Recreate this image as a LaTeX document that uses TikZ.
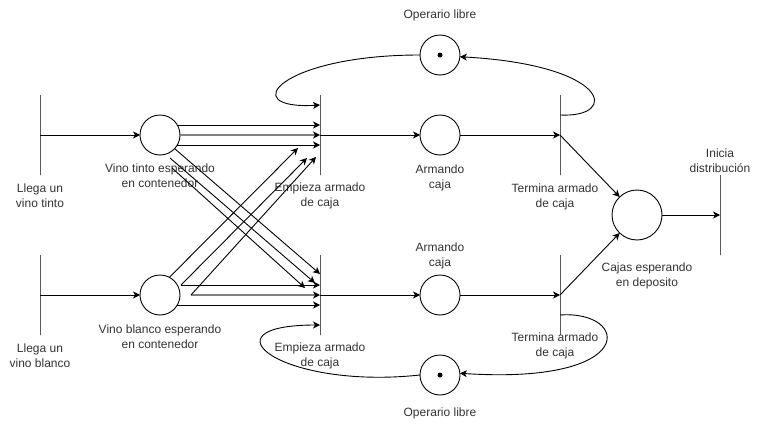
\documentclass[tikz,border=0pt]{standalone}
\usepackage{fontspec}
\setmainfont{Liberation Sans}
\usetikzlibrary{arrows.meta}
\begin{document}
\begin{tikzpicture}[x=1pt,y=-1pt,
  every node/.style={font=\fontsize{12}{15}\selectfont, text=black!80},
  place/.style={circle, draw, minimum size=40pt, inner sep=0pt, outer sep=0pt, line width=0.9pt},
  trans/.style={draw, minimum width=0pt, minimum height=80pt, inner sep=0pt, outer sep=0pt, line width=1pt},
  lbl/.style={align=center, inner sep=0pt},
  arc/.style={-{Stealth[length=7pt,width=7pt,inset=2pt]}, line width=0.9pt},
  arcg/.style={-{Stealth[length=7pt,width=7pt,inset=2pt,color=black,line width=0.9pt]}, draw=gray, line width=1.4pt},
  token/.style={circle, fill, minimum size=5pt, inner sep=0pt}]

\useasboundingbox (0,0) rectangle (761,431);

% transitions
\node[trans] (t1) at (40,135) {};
\node[trans] (t2) at (320,135) {};
\node[trans] (t3) at (560,135) {};
\node[trans] (t4) at (40,295) {};
\node[trans] (t5) at (320,295) {};
\node[trans] (t6) at (560,295) {};
\node[trans] (t7) at (720,215) {};

% places
\node[place] (p1) at (160,135) {};
\node[place] (p2) at (160,295) {};
\node[place] (p3) at (440,135) {};
\node[place] (p4) at (440,295) {};
\node[place] (o1) at (440,55) {};
\node[token] (k1) at (o1) {};
\node[place] (o2) at (440,375) {};
\node[token] (k2) at (o2) {};
\node[place, minimum size=50pt] (p5) at (637,215) {};

% labels
\node[lbl] (l1) at (40,196) {Llega un\\vino tinto};
\node[lbl] (l2) at (160,175.5) {Vino tinto esperando\\en contenedor};
\node[lbl] (l3) at (320,196) {Empieza armado\\de caja};
\node[lbl] (l4) at (440,178) {Armando\\caja};
\node[lbl] (l5) at (555,196.5) {Termina armado\\de caja};
\node[lbl] (l6) at (440,15) {Operario libre};
\node[lbl] (l7) at (720,161) {Inicia\\distribución};
\node[lbl] (l8) at (647,276) {Cajas esperando\\en deposito};
\node[lbl] (l9) at (40,356) {Llega un\\vino blanco};
\node[lbl] (l10) at (160,336.5) {Vino blanco esperando\\en contenedor};
\node[lbl] (l11) at (320,356) {Empieza armado\\de caja};
\node[lbl] (l12) at (440,256) {Armando\\caja};
\node[lbl] (l13) at (555,346) {Termina armado\\de caja};
\node[lbl] (l14) at (440,413) {Operario libre};

% arrivals
\draw[arc] (t1.center) -- (p1.west);
\draw[arc] (t4.center) -- (p2.west);

% top horizontals
\draw[arc] (p1.30) -- (p1.30 -| t2.center);
\draw[arcg] (p1.east) -- (t2.center);
\draw[arc] (p1.-30) -- (p1.-30 -| t2.center);

% bottom horizontals
\draw[arc] ([shift={(21pt,10pt)}]p2.center) -- ([yshift=10pt]t5.center);
\draw[arcg] ([xshift=31pt]p2.center) -- (t5.center);
\draw[arc] (p2.-30) -- (p2.-30 -| t5.center);

% diagonals down
\draw[arc] (p1.-43) -- ([yshift=21pt]t5.center);
\draw[arc] ([shift={(10pt,-23pt)}]p1.center) -- ([shift={(-5pt,12pt)}]t5.center);
\draw[arc] ([shift={(12pt,-33pt)}]p1.center) -- ([shift={(-15pt,7pt)}]t5.center);

% diagonals up
\draw[arc] (p2.62) -- ([shift={(-22pt,-13pt)}]t2.center);
\draw[arc] ([shift={(21pt,10pt)}]p2.center) -- ([shift={(-13pt,-23pt)}]t2.center);
\draw[arc] ([shift={(31pt,0pt)}]p2.center) -- ([shift={(-4pt,-22pt)}]t2.center);

% main flow
\draw[arc] (t2.center) -- (p3.west);
\draw[arc] (p3.east) -- (t3.center);
\draw[arc] (t5.center) -- (p4.west);
\draw[arc] (p4.east) -- (t6.center);
\draw[arc] (t3.center) -- (p5);
\draw[arc] (t6.center) -- (p5);
\draw[arc] (p5.east) -- (t7.center);

% operario loops
\draw[arc] (o1.west) .. controls (280,55) and (235,110) .. ([yshift=30pt]t2.center);
\draw[arc] ([yshift=20pt]t3.center) .. controls (620,118) and (610,65) .. (o1.-5);
\draw[arc] (o2.west) .. controls (280,390) and (200,325) .. ([yshift=-30pt]t5.center);
\draw[arc] ([yshift=-20pt]t6.center) .. controls (630,310) and (640,385) .. (o2.5);
\end{tikzpicture}
\end{document}
